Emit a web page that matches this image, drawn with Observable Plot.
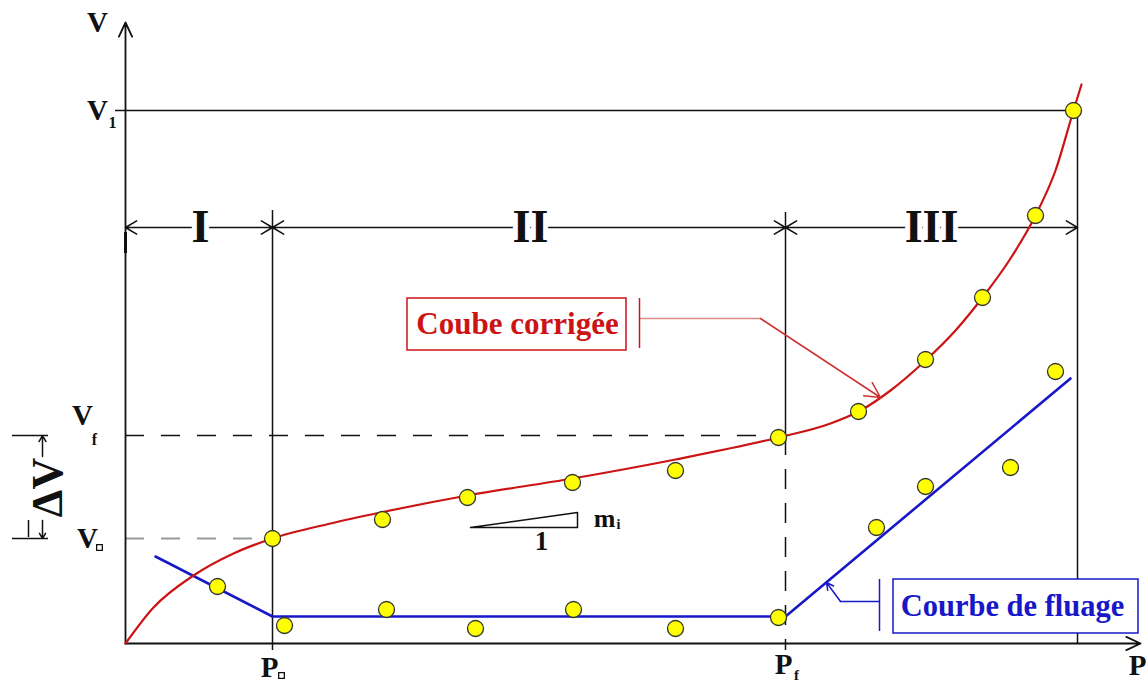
<!DOCTYPE html>
<html><head><meta charset="utf-8">
<script src="https://cdn.jsdelivr.net/npm/d3@7"></script>
<script src="https://cdn.jsdelivr.net/npm/@observablehq/plot@0.6"></script>
<style>html,body{margin:0;padding:0;background:#fff;} #chart svg{display:block;}</style>
</head><body><div id="chart"></div>
<script>
// ---- data (P and V in arbitrary chart units) ----
const curveP = [0, 0.28, 0.68, 1.08, 1.47, 2.05, 2.55, 3.42, 4.47, 5.50, 6.53, 7.05, 7.35, 7.65, 8.00, 8.30, 8.57, 8.85, 9.10, 9.30, 9.48, 9.56];
const curveV = [0, 0.36, 0.68, 0.90, 1.05, 1.20, 1.31, 1.48, 1.65, 1.84, 2.06, 2.20, 2.33, 2.53, 2.83, 3.13, 3.46, 3.85, 4.28, 4.73, 5.33, 5.59];
const pointP = [0.92, 1.47, 1.59, 2.57, 2.61, 3.42, 3.50, 4.47, 4.48, 5.50, 5.50, 6.53, 6.53, 7.33, 7.51, 8.00, 8.00, 8.57, 8.85, 9.10, 9.30, 9.48];
const pointV = [0.57, 1.05, 0.18, 1.24, 0.34, 1.46, 0.15, 1.61, 0.34, 1.73, 0.15, 2.06, 0.26, 2.32, 1.16, 2.84, 1.57, 3.46, 1.76, 4.28, 2.72, 5.33];
const fluageP = [0.30, 1.47, 6.60, 9.45];
const fluageV = [0.87, 0.27, 0.27, 2.65];
const P0 = 1.47, Pf = 6.60, P1 = 9.52;
const V0 = 1.05, Vf = 2.08, V1 = 5.33;
const regionNames = ["I", "II", "III"];
const regionBounds = [0, P0, Pf, P1];
const regionCenters = [0.75, 4.05, 8.06];
const regionLevel = 4.16;
const labelRed = "Coube corrigée";
const labelBlue = "Courbe de fluage";

// ---- annotation geometry ----
const redBox = {x1: 2.82, x2: 5.01, y1: 2.93, y2: 3.45};
const blueBox = {x1: 7.68, x2: 10.13, y1: 0.10, y2: 0.64};

const RED = "#cc1414", BLUE = "#1818c8", INK = "#111";
const serif = "Liberation Serif, Times New Roman, serif";

const curve = curveP.map((p, i) => ({p, v: curveV[i]}));
const points = pointP.map((p, i) => ({p, v: pointV[i]}));
const fluage = fluageP.map((p, i) => ({p, v: fluageV[i]}));
const regionArrows = [];
for (let i = 0; i < 3; i++) {
  const m = (regionBounds[i] + regionBounds[i + 1]) / 2;
  regionArrows.push({x1: m, x2: regionBounds[i]}, {x1: m, x2: regionBounds[i + 1]});
}
const regions = regionNames.map((t, i) => ({t, p: regionCenters[i]}));

const txt = (data, o) => Plot.text(data, {fontFamily: serif, fontWeight: "bold", fill: INK, ...o});

const chart = Plot.plot({
  width: 1146, height: 684, margin: 0,
  x: {type: "linear", domain: [-1.25, 10.21], axis: null},
  y: {type: "linear", domain: [-0.41, 6.43], axis: null},
  style: {background: "white"},
  marks: [
    // reference lines
    Plot.ruleY([V1], {x1: -0.10, x2: P1, stroke: INK, strokeWidth: 1.5}),
    Plot.ruleX([P1], {y1: 0, y2: V1, stroke: INK, strokeWidth: 1.5}),
    Plot.ruleX([P0], {y1: -0.07, y2: 4.33, stroke: INK, strokeWidth: 1.5}),
    Plot.ruleX([Pf], {y1: Vf, y2: 4.31, stroke: INK, strokeWidth: 1.5}),
    Plot.ruleX([Pf], {y1: Vf, y2: -0.07, stroke: INK, strokeWidth: 1.5, strokeDasharray: "20,14"}),
    Plot.ruleY([Vf], {x1: 0, x2: Pf, stroke: INK, strokeWidth: 1.5, strokeDasharray: "19,17"}),
    Plot.ruleY([V0], {x1: 0, x2: P0, stroke: "#999", strokeWidth: 1.8, strokeDasharray: "19,17"}),
    // region dimension arrows
    Plot.arrow(regionArrows, {x1: "x1", x2: "x2", y1: regionLevel, y2: regionLevel, stroke: INK, strokeWidth: 1.5, headLength: 13, headAngle: 62}),
    Plot.ruleX([0], {y1: 3.90, y2: 4.11, stroke: INK, strokeWidth: 3}),
    txt(regions, {x: "p", y: regionLevel, text: "t", fontSize: 46, stroke: "white", strokeWidth: 10, paintOrder: "stroke"}),
    // axes
    Plot.arrow([0], {x1: 0, y1: 0, x2: 0, y2: 6.21, stroke: INK, strokeWidth: 1.8, headLength: 13, headAngle: 50}),
    Plot.arrow([0], {x1: 0, y1: 0, x2: 10.15, y2: 0, stroke: INK, strokeWidth: 1.8, headLength: 13, headAngle: 50}),
    // ΔV dimension
    Plot.ruleY([Vf, V0], {x1: -1.13, x2: -0.77, stroke: INK, strokeWidth: 1.5}),
    Plot.arrow([0], {x1: -0.83, y1: 1.87, x2: -0.83, y2: Vf, stroke: INK, strokeWidth: 1.5, headLength: 8, headAngle: 60}),
    Plot.arrow([0], {x1: -0.83, y1: 1.23, x2: -0.83, y2: V0, stroke: INK, strokeWidth: 1.5, headLength: 8, headAngle: 60}),
    Plot.ruleX([-0.97], {y1: 1.06, y2: 1.23, stroke: INK, strokeWidth: 1.5}),
    txt(["ΔV"], {x: -0.78, y: 1.56, text: d => d, fontSize: 44, rotate: -90}),
    // axis labels
    txt(["V"], {x: -0.28, y: 6.21, text: d => d, fontSize: 29}),
    txt(["V"], {x: -0.28, y: 5.33, text: d => d, fontSize: 29}),
    txt(["1"], {x: -0.13, y: 5.21, text: d => d, fontSize: 16}),
    txt(["V"], {x: -0.43, y: 2.28, text: d => d, fontSize: 29}),
    txt(["f"], {x: -0.31, y: 2.04, text: d => d, fontSize: 16}),
    txt(["V"], {x: -0.38, y: 1.05, text: d => d, fontSize: 29}),
    txt(["P"], {x: 1.44, y: -0.24, text: d => d, fontSize: 29}),
    txt(["P"], {x: 6.58, y: -0.21, text: d => d, fontSize: 29}),
    txt(["f"], {x: 6.71, y: -0.32, text: d => d, fontSize: 15}),
    txt(["P"], {x: 10.12, y: -0.22, text: d => d, fontSize: 29}),
    Plot.dot([[-0.26, 0.96], [1.56, -0.32]], {x: d => d[0], y: d => d[1], symbol: "square", r: 3.2, fill: "white", stroke: INK, strokeWidth: 1.3}),
    // slope triangle
    Plot.line([[3.45, 1.16], [4.52, 1.16], [4.52, 1.31], [3.45, 1.16]], {x: d => d[0], y: d => d[1], stroke: INK, strokeWidth: 1.5}),
    txt(["1"], {x: 4.16, y: 1.02, text: d => d, fontSize: 27}),
    txt(["m"], {x: 4.79, y: 1.25, text: d => d, fontSize: 26}),
    txt(["i"], {x: 4.93, y: 1.19, text: d => d, fontSize: 14}),
    // curves
    Plot.line(fluage, {x: "p", y: "v", stroke: BLUE, strokeWidth: 2.6}),
    Plot.line(curve, {x: "p", y: "v", stroke: RED, strokeWidth: 2.2, curve: "monotone-x"}),
    // red annotation
    Plot.line([[5.14, 3.25], [6.35, 3.25]], {x: d => d[0], y: d => d[1], stroke: "#e08a8a", strokeWidth: 1.4}),
    Plot.arrow([0], {x1: 6.35, y1: 3.25, x2: 7.55, y2: 2.46, stroke: "#d03030", strokeWidth: 1.5, headLength: 17, headAngle: 55}),
    Plot.ruleX([5.14], {y1: 2.95, y2: 3.45, stroke: RED, strokeWidth: 1.5}),
    Plot.rect([redBox], {x1: "x1", x2: "x2", y1: "y1", y2: "y2", fill: "white", stroke: RED, strokeWidth: 1.5}),
    txt([labelRed], {x: 3.92, y: 3.19, text: d => d, fontSize: 31, fill: RED}),
    // blue annotation
    Plot.line([[7.54, 0.42], [7.15, 0.42]], {x: d => d[0], y: d => d[1], stroke: BLUE, strokeWidth: 1.4}),
    Plot.arrow([0], {x1: 7.15, y1: 0.42, x2: 7.01, y2: 0.61, stroke: BLUE, strokeWidth: 1.5, headLength: 20, headAngle: 55}),
    Plot.ruleX([7.54], {y1: 0.12, y2: 0.64, stroke: BLUE, strokeWidth: 1.5}),
    Plot.rect([blueBox], {x1: "x1", x2: "x2", y1: "y1", y2: "y2", fill: "white", stroke: BLUE, strokeWidth: 1.5}),
    txt([labelBlue], {x: 8.87, y: 0.37, text: d => d, fontSize: 30.5, fill: BLUE}),
    // measured points
    Plot.dot(points, {x: "p", y: "v", r: 8, fill: "#ffff00", stroke: "#333", strokeWidth: 1.3})
  ]
});
document.getElementById("chart").append(chart);
</script>
</body></html>
